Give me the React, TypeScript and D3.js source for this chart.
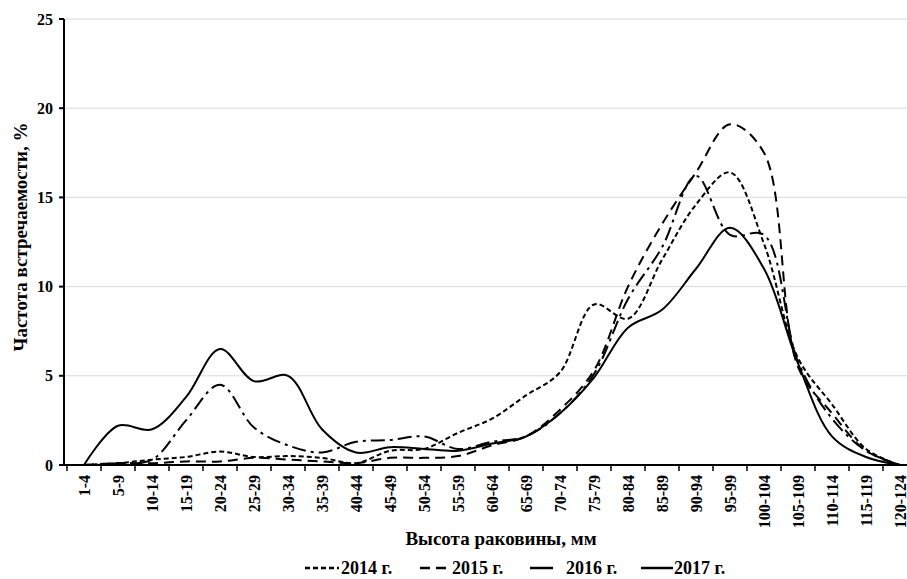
import React from "react";
import { scaleBand, scaleLinear, line, curveCatmullRom } from "d3";

const categories = [
  "1-4", "5-9", "10-14", "15-19", "20-24", "25-29", "30-34", "35-39", "40-44",
  "45-49", "50-54", "55-59", "60-64", "65-69", "70-74", "75-79", "80-84",
  "85-89", "90-94", "95-99", "100-104", "105-109", "110-114", "115-119", "120-124",
];

const y2014 = [0, 0.1, 0.3, 0.45, 0.75, 0.45, 0.5, 0.4, 0.1, 0.8, 0.9, 1.8, 2.6, 3.9, 5.2, 9.0, 8.2, 11.5, 14.6, 16.4, 12.4, 6.0, 3.4, 0.9, 0];
const y2015 = [0, 0.1, 0.1, 0.2, 0.2, 0.4, 0.3, 0.2, 0.1, 0.4, 0.4, 0.5, 1.1, 1.6, 3.1, 5.3, 10.0, 13.5, 16.4, 19.1, 17.5, 5.5, 2.9, 0.8, 0];
const y2016 = [0, 0.1, 0.3, 2.5, 4.5, 2.1, 1.1, 0.7, 1.3, 1.4, 1.6, 0.9, 1.3, 1.6, 2.9, 5.1, 9.3, 12.2, 16.2, 12.9, 12.9, 5.8, 2.6, 0.8, 0];
const y2017 = [0, 2.2, 2.0, 3.8, 6.5, 4.7, 5.0, 2.0, 0.7, 1.0, 0.9, 0.8, 1.2, 1.6, 2.9, 4.9, 7.7, 8.7, 11.0, 13.3, 11.0, 5.7, 1.6, 0.45, 0];

const yTicks = [0, 5, 10, 15, 20, 25];

const seriesNames = ["2014 г.", "2015 г.", "2016 г.", "2017 г."];
const dashes = ["5,3", "10,6", "14,5,3,5", "none"];

const W = 907;
const H = 579;
const font = "'Liberation Serif', 'Times New Roman', serif";

export default function App() {
  const x = scaleBand().domain(categories).range([67, 917]);
  const y = scaleLinear().domain([0, 25]).range([465, 19]);
  const all = [y2014, y2015, y2016, y2017];

  const gen = line<number>()
    .x((_, i) => (x(categories[i]) as number) + x.bandwidth() / 2)
    .y((d) => y(d))
    .curve(curveCatmullRom.alpha(0.5));

  // legend pieces: sample line start/end, text start
  const legend = [
    { x1: 305, x2: 339, tx: 341 },
    { x1: 420, x2: 449, tx: 452 },
    { x1: 530, x2: 553, tx: 566 },
    { x1: 641, x2: 673, tx: 674 },
  ];

  return (
    <svg width={W} height={H} style={{ position: "absolute", left: 0, top: 0, background: "#fff" }}>
      {yTicks.slice(1).map((t) => (
        <line key={"g" + t} x1={64} x2={W} y1={y(t)} y2={y(t)} stroke="#d9d9d9" strokeWidth={1} />
      ))}
      {all.map((s, k) => (
        <path
          key={k}
          d={gen(s) || ""}
          fill="none"
          stroke="#000"
          strokeWidth={2}
          strokeDasharray={dashes[k]}
        />
      ))}
      {/* y axis */}
      <line x1={64} x2={64} y1={19} y2={466} stroke="#000" strokeWidth={2} />
      {yTicks.map((t) => (
        <g key={"y" + t}>
          <line x1={59} x2={64} y1={y(t)} y2={y(t)} stroke="#000" strokeWidth={2} />
          <text x={53} y={y(t) + 5.5} textAnchor="end" fontFamily={font} fontWeight="bold" fontSize={16}>
            {t}
          </text>
        </g>
      ))}
      {/* x axis */}
      <line x1={63} x2={W} y1={465} y2={465} stroke="#000" strokeWidth={2} />
      {categories.map((c) => (
        <line key={"xt" + c} x1={x(c)} x2={x(c)} y1={465} y2={471} stroke="#000" strokeWidth={1.5} />
      ))}
      {categories.map((c) => {
        const cx = (x(c) as number) + x.bandwidth() / 2;
        return (
          <text
            key={"xl" + c}
            transform={`translate(${cx + 5.5},475) rotate(-90)`}
            textAnchor="end"
            fontFamily={font}
            fontWeight="bold"
            fontSize={16}
          >
            {c}
          </text>
        );
      })}
      <text x={501} y={545} textAnchor="middle" fontFamily={font} fontWeight="bold" fontSize={19}>
        Высота раковины, мм
      </text>
      <text
        transform="translate(27,237) rotate(-90)"
        textAnchor="middle"
        fontFamily={font}
        fontWeight="bold"
        fontSize={19}
      >
        Частота встречаемости, %
      </text>
      {seriesNames.map((n, k) => (
        <g key={"lg" + n}>
          <line
            x1={legend[k].x1}
            x2={legend[k].x2}
            y1={568}
            y2={568}
            stroke="#000"
            strokeWidth={2.5}
            strokeDasharray={k === 2 ? "none" : dashes[k]}
          />
          <text x={legend[k].tx} y={574} fontFamily={font} fontWeight="bold" fontSize={18}>
            {n}
          </text>
        </g>
      ))}
    </svg>
  );
}
